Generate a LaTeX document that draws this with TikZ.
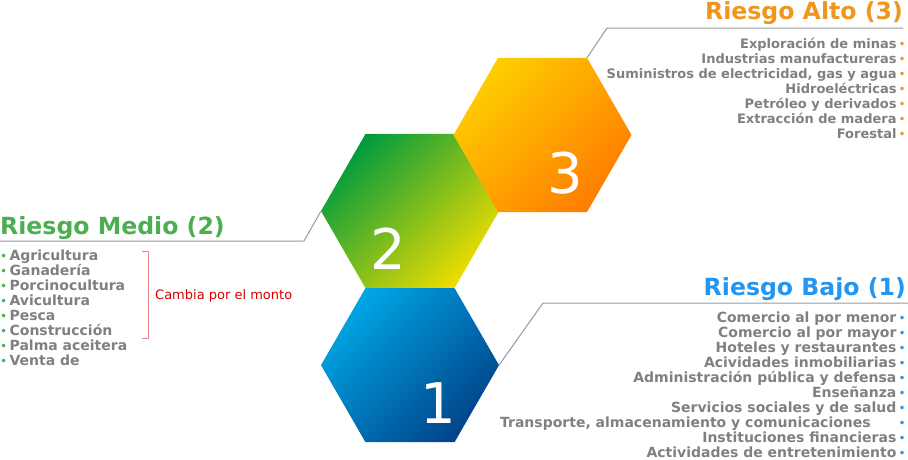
\documentclass[tikz,border=0pt]{standalone}
\usepackage{fontspec}
\setmainfont{DejaVu Sans}
\usetikzlibrary{positioning,shapes.geometric}

\definecolor{alto}{RGB}{241,150,28}
\definecolor{medio}{RGB}{76,174,80}
\definecolor{bajo}{RGB}{33,150,243}
\definecolor{txtgris}{RGB}{128,128,130}
\definecolor{lineagris}{RGB}{150,154,158}
\definecolor{rojo}{RGB}{215,0,0}
\definecolor{llaverosa}{RGB}{238,135,140}
\definecolor{azulA}{RGB}{0,165,228}
\definecolor{azulB}{RGB}{0,68,138}
\definecolor{verdeA}{RGB}{0,155,62}
\definecolor{verdeB}{RGB}{238,220,0}
\definecolor{naranjaA}{RGB}{255,205,0}
\definecolor{naranjaB}{RGB}{255,125,0}

\newcommand{\pto}[1]{\textcolor{#1}{\normalfont\fontsize{12}{12}\selectfont\raisebox{0.3pt}{•}}}

\begin{document}
\begin{tikzpicture}[
    x=1pt, y=-1pt,
    hexa/.style={regular polygon, regular polygon sides=6, minimum size=178pt, inner sep=0pt, outer sep=0pt},
    grad/.style 2 args={top color=#1, bottom color=#2, shading angle=45},
    num/.style={text=white, font=\fontsize{56}{56}\selectfont, inner sep=0pt},
    titulo/.style={font=\fontsize{23.6}{23.6}\selectfont\bfseries, inner sep=0pt},
    lista/.style={text=txtgris, font=\fontsize{13}{15}\selectfont\bfseries, inner sep=0pt},
    listagr/.style={lista, font=\fontsize{14}{15}\selectfont\bfseries},
    conn/.style={draw=lineagris, line width=1pt}
]
    \useasboundingbox (0,0) rectangle (908,459);

    % Hexagonos
    \node[hexa, grad={verdeA}{verdeB}] (hex2) at (410,211) {};
    \node[hexa, grad={azulA}{azulB}, below=0pt of hex2] (hex1) {};
    \node[hexa, grad={naranjaA}{naranjaB}, anchor=west] (hex3) at ([shift={(-1,1)}]hex2.60) {};

    \node[num] (n1) at ([shift={(28,38)}]hex1.center) {1};
    \node[num] (n2) at ([shift={(-22,38)}]hex2.center) {2};
    \node[num] (n3) at ([shift={(23,38)}]hex3.center) {3};

    % Riesgo Alto
    \coordinate (altoFin) at (903,28);
    \node[titulo, text=alto, anchor=base east] (altoT) at (903,19) {Riesgo Alto (3)};
    \draw[conn] (hex3.60) -- (607,28) -- (altoFin);
    \node[lista, align=right, anchor=north east] (altoL) at (906,38) {%
        Exploración de minas\,\pto{alto}\\
        Industrias manufactureras\,\pto{alto}\\
        Suministros de electricidad, gas y agua\,\pto{alto}\\
        Hidroeléctricas\,\pto{alto}\\
        Petróleo y derivados\,\pto{alto}\\
        Extracción de madera\,\pto{alto}\\
        Forestal\,\pto{alto}};

    % Riesgo Medio
    \coordinate (medioFin) at (0,241);
    \node[titulo, text=medio, anchor=base west] (medioT) at (0,234) {Riesgo Medio (2)};
    \draw[conn] (hex2.180) -- (304,241) -- (medioFin);
    \node[listagr, align=left, anchor=north west] (medioL) at (0,250) {%
        \pto{medio}\,Agricultura\\
        \pto{medio}\,Ganadería\\
        \pto{medio}\,Porcinocultura\\
        \pto{medio}\,Avicultura\\
        \pto{medio}\,Pesca\\
        \pto{medio}\,Construcción\\
        \pto{medio}\,Palma aceitera\\
        \pto{medio}\,Venta de};
    \draw[llaverosa, line width=0.8pt] (142,251) -- (148,251) -- (148,338) -- (142,338);
    \node[text=rojo, font=\fontsize{13}{13}\selectfont, anchor=west, inner sep=0pt] (monto) at (155,296) {Cambia por el monto};

    % Riesgo Bajo
    \coordinate (bajoFin) at (908,303);
    \node[titulo, text=bajo, anchor=base east] (bajoT) at (906,295) {Riesgo Bajo (1)};
    \draw[conn] (hex1.0) -- (543,303) -- (bajoFin);
    \node[listagr, align=right, anchor=north east] (bajoL) at (906,311.5) {%
        Comercio al por menor\,\pto{bajo}\\
        Comercio al por mayor\,\pto{bajo}\\
        Hoteles y restaurantes\,\pto{bajo}\\
        Acividades inmobiliarias\,\pto{bajo}\\
        Administración pública y defensa\,\pto{bajo}\\
        Enseñanza\,\pto{bajo}\\
        Servicios sociales y de salud\,\pto{bajo}\\
        Transporte, almacenamiento y comunicaciones\hspace*{28pt}\pto{bajo}\\
        Instituciones financieras\,\pto{bajo}\\
        Actividades de entretenimiento\,\pto{bajo}};
\end{tikzpicture}
\end{document}
